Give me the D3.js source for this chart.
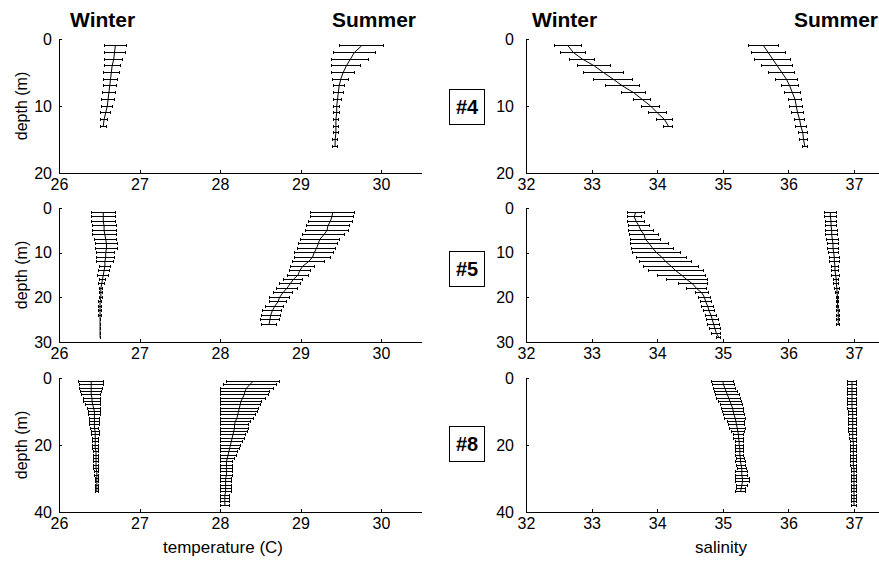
<!DOCTYPE html>
<html>
<head>
<meta charset="utf-8">
<script src="https://cdn.jsdelivr.net/npm/d3@7"></script>
<style>
body { margin: 0; background: #fff; }
svg { display: block; font-family: "Liberation Sans", Arial, sans-serif; }
</style>
</head>
<body>
<svg id="chart" width="879" height="563"></svg>
<script>
// Depth levels (m) of each profile
var depth13 = [1,2,3,4,5,6,7,8,9,10,11,12,13];
var depth16 = [1,2,3,4,5,6,7,8,9,10,11,12,13,14,15,16];
var depth26 = [1,2,3,4,5,6,7,8,9,10,11,12,13,14,15,16,17,18,19,20,21,22,23,24,25,26];
var depth29 = [1,2,3,4,5,6,7,8,9,10,11,12,13,14,15,16,17,18,19,20,21,22,23,24,25,26,27,28,29];
var depth34 = [1,2,3,4,5,6,7,8,9,10,11,12,13,14,15,16,17,18,19,20,21,22,23,24,25,26,27,28,29,30,31,32,33,34];
var depth38 = [1,2,3,4,5,6,7,8,9,10,11,12,13,14,15,16,17,18,19,20,21,22,23,24,25,26,27,28,29,30,31,32,33,34,35,36,37,38];

// Station #4
var temp4Winter = [26.70, 26.69, 26.68, 26.66, 26.65, 26.64, 26.63, 26.62, 26.61, 26.60, 26.58, 26.56, 26.55];
var temp4WinterErr = [0.14, 0.13, 0.11, 0.10, 0.10, 0.09, 0.08, 0.08, 0.08, 0.07, 0.06, 0.04, 0.04];
var temp4Summer = [29.76, 29.67, 29.62, 29.57, 29.53, 29.50, 29.48, 29.47, 29.46, 29.45, 29.45, 29.44, 29.44, 29.44, 29.43, 29.43];
var temp4SummerErr = [0.27, 0.26, 0.23, 0.18, 0.14, 0.10, 0.07, 0.06, 0.05, 0.04, 0.04, 0.03, 0.03, 0.03, 0.03, 0.03];
var sal4Winter = [32.64, 32.72, 32.86, 33.04, 33.18, 33.33, 33.47, 33.64, 33.77, 33.90, 34.00, 34.11, 34.17];
var sal4WinterErr = [0.21, 0.19, 0.19, 0.25, 0.30, 0.30, 0.26, 0.18, 0.13, 0.14, 0.14, 0.12, 0.07];
var sal4Summer = [35.62, 35.69, 35.76, 35.83, 35.90, 35.97, 36.02, 36.06, 36.10, 36.12, 36.14, 36.17, 36.19, 36.22, 36.23, 36.25];
var sal4SummerErr = [0.23, 0.26, 0.27, 0.24, 0.20, 0.17, 0.13, 0.12, 0.10, 0.10, 0.09, 0.08, 0.08, 0.07, 0.06, 0.04];

// Station #5
var temp5Winter = [26.55, 26.55, 26.55, 26.56, 26.56, 26.57, 26.58, 26.59, 26.59, 26.58, 26.58, 26.57, 26.57, 26.56, 26.55,
    26.54, 26.53, 26.52, 26.52, 26.52, 26.51, 26.51, 26.51, 26.51, 26.51, 26.51, 26.51, 26.51, 26.51];
var temp5WinterErr = [0.15, 0.15, 0.15, 0.15, 0.15, 0.15, 0.14, 0.14, 0.14, 0.11, 0.11, 0.11, 0.07, 0.07, 0.07,
    0.04, 0.04, 0.02, 0.02, 0.02, 0.02, 0.02, 0.02, 0.02, 0, 0, 0, 0, 0];
var temp5Summer = [29.40, 29.39, 29.37, 29.34, 29.33, 29.29, 29.24, 29.22, 29.20, 29.17, 29.15, 29.10, 29.03, 28.99, 28.97,
    28.91, 28.87, 28.83, 28.78, 28.74, 28.72, 28.68, 28.65, 28.63, 28.62, 28.61];
var temp5SummerErr = [0.27, 0.27, 0.27, 0.27, 0.27, 0.26, 0.24, 0.24, 0.24, 0.24, 0.22, 0.20, 0.15, 0.13, 0.13,
    0.12, 0.13, 0.13, 0.12, 0.12, 0.11, 0.11, 0.12, 0.12, 0.12, 0.09];
var sal5Winter = [33.67, 33.65, 33.68, 33.72, 33.75, 33.80, 33.82, 33.88, 33.93, 33.99, 34.07, 34.13, 34.21, 34.28, 34.37,
    34.45, 34.54, 34.60, 34.68, 34.72, 34.74, 34.77, 34.79, 34.82, 34.84, 34.86, 34.88, 34.90, 34.94];
var sal5WinterErr = [0.13, 0.11, 0.13, 0.16, 0.19, 0.22, 0.23, 0.29, 0.32, 0.36, 0.38, 0.40, 0.42, 0.42, 0.36,
    0.31, 0.22, 0.15, 0.10, 0.09, 0.085, 0.09, 0.09, 0.09, 0.09, 0.09, 0.08, 0.07, 0.03];
var sal5Summer = [36.64, 36.64, 36.65, 36.65, 36.66, 36.66, 36.67, 36.68, 36.68, 36.69, 36.70, 36.70, 36.71, 36.71, 36.72,
    36.73, 36.73, 36.74, 36.74, 36.75, 36.75, 36.75, 36.76, 36.76, 36.76, 36.76];
var sal5SummerErr = [0.09, 0.09, 0.09, 0.09, 0.09, 0.09, 0.09, 0.09, 0.08, 0.08, 0.08, 0.08, 0.06, 0.06, 0.06,
    0.04, 0.04, 0.04, 0.02, 0.02, 0.02, 0.02, 0.02, 0.02, 0.02, 0.02];

// Station #8
var temp8Winter = [26.40, 26.40, 26.40, 26.40, 26.40, 26.41, 26.41, 26.42, 26.43, 26.44, 26.44, 26.44, 26.44, 26.44, 26.44, 26.45, 26.45,
    26.45, 26.45, 26.45, 26.45, 26.46, 26.46, 26.46, 26.46, 26.46, 26.46, 26.47, 26.47, 26.47, 26.47, 26.47, 26.47, 26.47];
var temp8WinterErr = [0.155, 0.15, 0.14, 0.13, 0.12, 0.11, 0.10, 0.09, 0.08, 0.07, 0.07, 0.06, 0.06, 0.06, 0.05, 0.05, 0.05,
    0.04, 0.04, 0.035, 0.035, 0.035, 0.03, 0.03, 0.03, 0.03, 0.03, 0.025, 0.025, 0.02, 0.02, 0.02, 0.02, 0.02];
var temp8Summer = [28.41, 28.37, 28.33, 28.31, 28.30, 28.28, 28.26, 28.25, 28.24, 28.23, 28.22, 28.21, 28.19, 28.18, 28.18, 28.17, 28.16, 28.15, 28.14,
    28.13, 28.12, 28.11, 28.10, 28.09, 28.08, 28.08, 28.08, 28.08, 28.08, 28.07, 28.07, 28.07, 28.07, 28.07, 28.06, 28.06, 28.06, 28.06];
var temp8SummerErr = [0.33, 0.33, 0.33, 0.31, 0.30, 0.28, 0.26, 0.25, 0.24, 0.23, 0.22, 0.20, 0.19, 0.18, 0.17, 0.17, 0.16, 0.15, 0.14,
    0.13, 0.12, 0.11, 0.10, 0.09, 0.08, 0.08, 0.08, 0.08, 0.07, 0.07, 0.07, 0.07, 0.07, 0.07, 0.06, 0.06, 0.06, 0.06];
var sal8Winter = [35.00, 35.01, 35.03, 35.05, 35.07, 35.09, 35.11, 35.13, 35.15, 35.16, 35.17, 35.19, 35.20, 35.21, 35.22, 35.23, 35.24,
    35.24, 35.25, 35.25, 35.26, 35.26, 35.26, 35.27, 35.27, 35.28, 35.29, 35.29, 35.29, 35.30, 35.30, 35.29, 35.28, 35.27];
var sal8WinterErr = [0.165, 0.17, 0.17, 0.18, 0.18, 0.18, 0.18, 0.17, 0.17, 0.16, 0.16, 0.16, 0.13, 0.12, 0.12, 0.10, 0.07,
    0.07, 0.06, 0.06, 0.06, 0.06, 0.06, 0.06, 0.07, 0.07, 0.07, 0.09, 0.09, 0.10, 0.10, 0.08, 0.07, 0.07];
var sal8Summer = [36.97, 36.97, 36.97, 36.97, 36.97, 36.97, 36.97, 36.97, 36.97, 36.98, 36.98, 36.98, 36.98, 36.98, 36.98, 36.98, 36.98, 36.98, 36.99,
    36.99, 36.99, 36.99, 36.99, 36.99, 36.99, 36.99, 37.00, 37.00, 37.00, 37.00, 37.00, 37.00, 37.00, 37.00, 37.00, 37.00, 37.00, 37.00];
var sal8SummerErr = [0.07, 0.07, 0.07, 0.07, 0.07, 0.07, 0.07, 0.07, 0.07, 0.065, 0.065, 0.06, 0.06, 0.06, 0.06, 0.06, 0.055, 0.055, 0.05,
    0.05, 0.05, 0.05, 0.05, 0.05, 0.05, 0.05, 0.04, 0.04, 0.04, 0.04, 0.04, 0.04, 0.04, 0.04, 0.04, 0.04, 0.04, 0.04];

var stationNames = ["#4", "#5", "#8"];
var depthMax = [20, 30, 40];
var depthTicks = [[0, 10, 20], [0, 10, 20, 30], [0, 20, 40]];
var tempTicks = [26, 27, 28, 29, 30];
var salTicks = [32, 33, 34, 35, 36, 37];

// layout
var rowTop = [39, 208, 378];
var rowHeight = 134;
var columns = [
    {domain: [26, 30.5], range: [59, 421.25], ticks: tempTicks, labelPad: 7, xlabel: "temperature (C)"},
    {domain: [32, 37.5], range: [526, 886.8], ticks: salTicks, labelPad: 12, xlabel: "salinity"}
];

function profile(depth, mean, err) {
    return depth.map(function(d, i) { return {depth: d, mean: mean[i], err: err[i]}; });
}

var panels = [
    {row: 0, col: 0, winter: profile(depth13, temp4Winter, temp4WinterErr), summer: profile(depth16, temp4Summer, temp4SummerErr)},
    {row: 0, col: 1, winter: profile(depth13, sal4Winter, sal4WinterErr), summer: profile(depth16, sal4Summer, sal4SummerErr)},
    {row: 1, col: 0, winter: profile(depth29, temp5Winter, temp5WinterErr), summer: profile(depth26, temp5Summer, temp5SummerErr)},
    {row: 1, col: 1, winter: profile(depth29, sal5Winter, sal5WinterErr), summer: profile(depth26, sal5Summer, sal5SummerErr)},
    {row: 2, col: 0, winter: profile(depth34, temp8Winter, temp8WinterErr), summer: profile(depth38, temp8Summer, temp8SummerErr)},
    {row: 2, col: 1, winter: profile(depth34, sal8Winter, sal8WinterErr), summer: profile(depth38, sal8Summer, sal8SummerErr)}
];

var svg = d3.select("#chart");
var capHalf = 1.5;

panels.forEach(function(p) {
    var c = columns[p.col];
    var x = d3.scaleLinear().domain(c.domain).range(c.range);
    var y = d3.scaleLinear().domain([0, depthMax[p.row]]).range([rowTop[p.row], rowTop[p.row] + rowHeight]);
    var g = svg.append("g");

    // axes, ticks pointing inwards like matlab
    var xAxis = g.append("g")
        .attr("transform", "translate(0," + y.range()[1] + ")")
        .call(d3.axisBottom(x).tickValues(c.ticks).tickFormat(d3.format("d"))
            .tickSizeInner(-3).tickSizeOuter(0).tickPadding(6));
    var yAxis = g.append("g")
        .attr("transform", "translate(" + c.range[0] + ",0)")
        .call(d3.axisLeft(y).tickValues(depthTicks[p.row]).tickFormat(d3.format("d"))
            .tickSizeInner(-3).tickSizeOuter(0).tickPadding(c.labelPad));
    [xAxis, yAxis].forEach(function(a) {
        a.attr("font-family", null).attr("font-size", 16);
        a.selectAll("path, line").attr("stroke", "#000").attr("shape-rendering", "crispEdges");
        a.selectAll("text").attr("fill", "#000");
    });

    [p.winter, p.summer].forEach(function(prof) {
        // horizontal error bars with end caps
        g.append("g")
            .selectAll("path")
            .data(prof)
            .join("path")
            .attr("d", function(d) {
                var lo = x(d.mean - d.err), hi = x(d.mean + d.err), yy = y(d.depth);
                return "M" + lo + "," + yy + "H" + hi +
                    "M" + lo + "," + (yy - capHalf) + "V" + (yy + capHalf) +
                    "M" + hi + "," + (yy - capHalf) + "V" + (yy + capHalf);
            })
            .attr("fill", "none")
            .attr("stroke", "#000")
            .attr("stroke-width", 1)
            .attr("shape-rendering", "crispEdges");

        // mean profile line
        g.append("path")
            .datum(prof)
            .attr("d", d3.line().x(function(d) { return x(d.mean); }).y(function(d) { return y(d.depth); }))
            .attr("fill", "none")
            .attr("stroke", "#000")
            .attr("stroke-width", 1);
    });
});

// season titles
var titles = [
    {text: "Winter", x: 70}, {text: "Summer", x: 332},
    {text: "Winter", x: 532}, {text: "Summer", x: 794}
];
svg.selectAll(".season")
    .data(titles)
    .join("text")
    .attr("class", "season")
    .attr("x", function(d) { return d.x; })
    .attr("y", 27)
    .attr("font-size", 21)
    .attr("font-weight", "bold")
    .text(function(d) { return d.text; });

// y labels on the left column
rowTop.forEach(function(top) {
    svg.append("text")
        .attr("transform", "translate(27," + (top + rowHeight / 2) + ") rotate(-90)")
        .attr("text-anchor", "middle")
        .attr("font-size", 16)
        .text("depth (m)");
});

// x labels
columns.forEach(function(c, i) {
    svg.append("text")
        .attr("x", i === 0 ? 223 : 721)
        .attr("y", 553)
        .attr("text-anchor", "middle")
        .attr("font-size", 17)
        .text(c.xlabel);
});

// station boxes between the columns
var boxCenters = [107, 269, 444];
stationNames.forEach(function(name, i) {
    var cy = boxCenters[i];
    svg.append("rect")
        .attr("x", 449.5).attr("y", cy - 17.5)
        .attr("width", 35).attr("height", 35)
        .attr("fill", "#fff").attr("stroke", "#000")
        .attr("shape-rendering", "crispEdges");
    svg.append("text")
        .attr("x", 467).attr("y", cy)
        .attr("dy", "0.36em")
        .attr("text-anchor", "middle")
        .attr("font-size", 20)
        .attr("font-weight", "bold")
        .text(name);
});
</script>
</body>
</html>
